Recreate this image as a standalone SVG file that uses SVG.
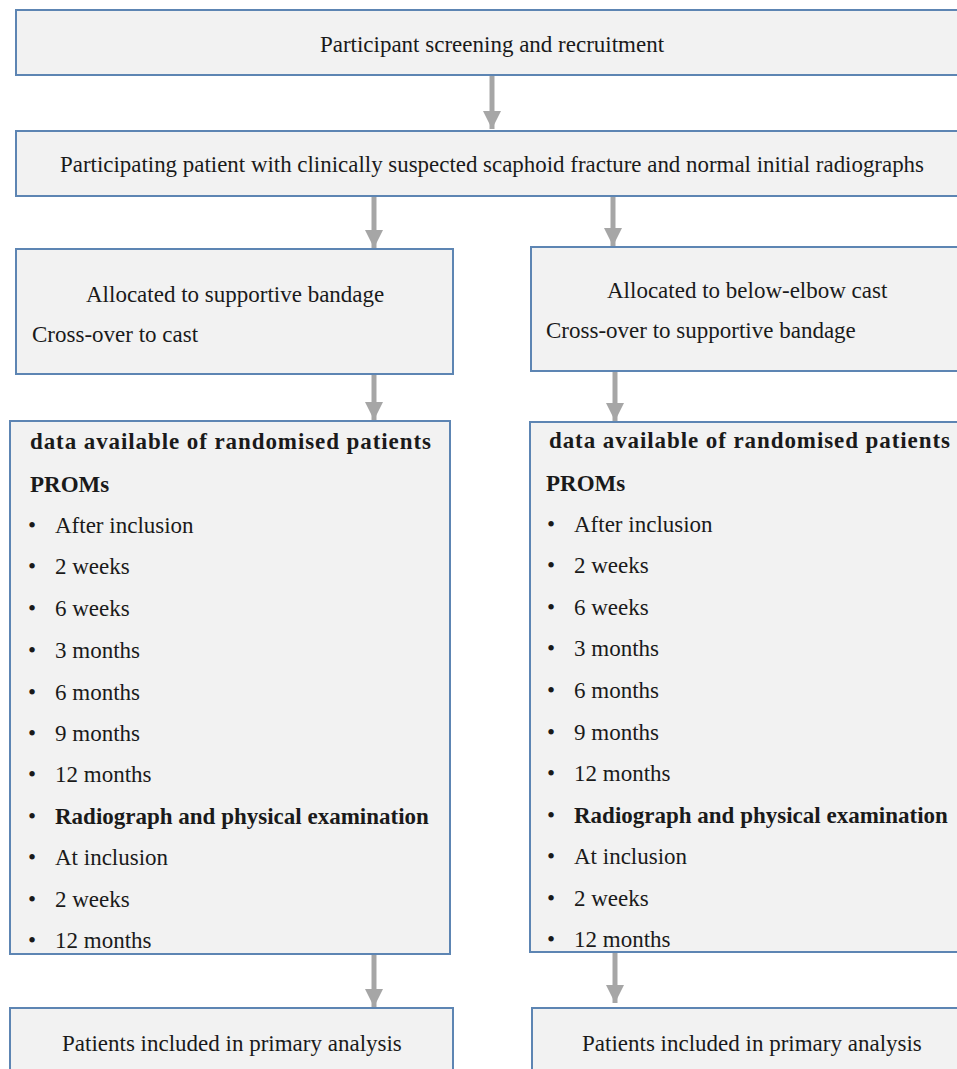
<svg xmlns="http://www.w3.org/2000/svg" width="957" height="1069" viewBox="0 0 957 1069">
<style>
.box{fill:#f2f2f2;stroke:#5d85b3;stroke-width:2}
text{font-family:"Liberation Serif","Times New Roman",serif;font-size:23px;fill:#1a1a1a}
.b{font-weight:bold}
.c{text-anchor:middle}
.arr{stroke:#a6a6a6;stroke-width:5;fill:none}
</style>
<defs>
<marker id="ah" markerUnits="userSpaceOnUse" markerWidth="20" markerHeight="20" refX="18" refY="9" orient="auto">
<path d="M0,0 L18,9 L0,18 Z" fill="#a6a6a6"/>
</marker>
</defs>
<rect width="957" height="1069" fill="#ffffff"/>
<g id="connectors">
<line class="arr" x1="492" y1="76" x2="492" y2="129" marker-end="url(#ah)"/>
<line class="arr" x1="374" y1="197" x2="374" y2="248" marker-end="url(#ah)"/>
<line class="arr" x1="613" y1="197" x2="613" y2="246" marker-end="url(#ah)"/>
<line class="arr" x1="374" y1="375" x2="374" y2="420" marker-end="url(#ah)"/>
<line class="arr" x1="615" y1="372" x2="615" y2="421" marker-end="url(#ah)"/>
<line class="arr" x1="374" y1="955" x2="374" y2="1007" marker-end="url(#ah)"/>
<line class="arr" x1="615" y1="953" x2="615" y2="1003" marker-end="url(#ah)"/>
</g>
<g id="n_screening">
<rect class="box" x="16" y="10" width="960" height="65"/>
<text class="c" x="492" y="52">Participant screening and recruitment</text>
</g>
<g id="n_participating">
<rect class="box" x="16" y="131" width="960" height="65"/>
<text x="60" y="172" textLength="864" lengthAdjust="spacingAndGlyphs">Participating patient with clinically  suspected scaphoid fracture and normal initial  radiographs</text>
</g>
<g id="n_alloc_bandage">
<rect class="box" x="16" y="249" width="437" height="125"/>
<text x="86" y="302">Allocated to supportive bandage</text>
<text x="32" y="342">Cross-over to cast</text>
</g>
<g id="n_alloc_cast">
<rect class="box" x="531" y="247" width="440" height="124"/>
<text x="607" y="298">Allocated to below-elbow cast</text>
<text x="546" y="338">Cross-over to supportive bandage</text>
</g>
<g id="n_data_left">
<rect class="box" x="10" y="421" width="440" height="533"/>
<text class="b" x="30" y="449" textLength="401" lengthAdjust="spacing">data available of randomised  patients</text>
<text class="b" x="30" y="492">PROMs</text>
<g>
<text x="28" y="533">•</text><text x="55" y="533">After inclusion</text>
<text x="28" y="574">•</text><text x="55" y="574">2 weeks</text>
<text x="28" y="616">•</text><text x="55" y="616">6 weeks</text>
<text x="28" y="658">•</text><text x="55" y="658">3 months</text>
<text x="28" y="700">•</text><text x="55" y="700">6 months</text>
<text x="28" y="741">•</text><text x="55" y="741">9 months</text>
<text x="28" y="782">•</text><text x="55" y="782">12 months</text>
<text x="28" y="824">•</text><text class="b" x="55" y="824">Radiograph and physical examination</text>
<text x="28" y="865">•</text><text x="55" y="865">At inclusion</text>
<text x="28" y="907">•</text><text x="55" y="907">2 weeks</text>
<text x="28" y="948">•</text><text x="55" y="948">12 months</text>
</g>
</g>
<g id="n_data_right">
<rect class="box" x="530" y="422" width="440" height="530"/>
<text class="b" x="549" y="448" textLength="401" lengthAdjust="spacing">data available of randomised  patients</text>
<text class="b" x="546" y="491">PROMs</text>
<g>
<text x="547" y="532">•</text><text x="574" y="532">After inclusion</text>
<text x="547" y="573">•</text><text x="574" y="573">2 weeks</text>
<text x="547" y="615">•</text><text x="574" y="615">6 weeks</text>
<text x="547" y="656">•</text><text x="574" y="656">3 months</text>
<text x="547" y="698">•</text><text x="574" y="698">6 months</text>
<text x="547" y="740">•</text><text x="574" y="740">9 months</text>
<text x="547" y="781">•</text><text x="574" y="781">12 months</text>
<text x="547" y="823">•</text><text class="b" x="574" y="823">Radiograph and physical examination</text>
<text x="547" y="864">•</text><text x="574" y="864">At inclusion</text>
<text x="547" y="906">•</text><text x="574" y="906">2 weeks</text>
<text x="547" y="947">•</text><text x="574" y="947">12 months</text>
</g>
</g>
<g id="n_primary_left">
<rect class="box" x="10" y="1008" width="443" height="80"/>
<text x="62" y="1051">Patients included in primary analysis</text>
</g>
<g id="n_primary_right">
<rect class="box" x="532" y="1008" width="440" height="80"/>
<text x="582" y="1051">Patients included in primary analysis</text>
</g>
</svg>
